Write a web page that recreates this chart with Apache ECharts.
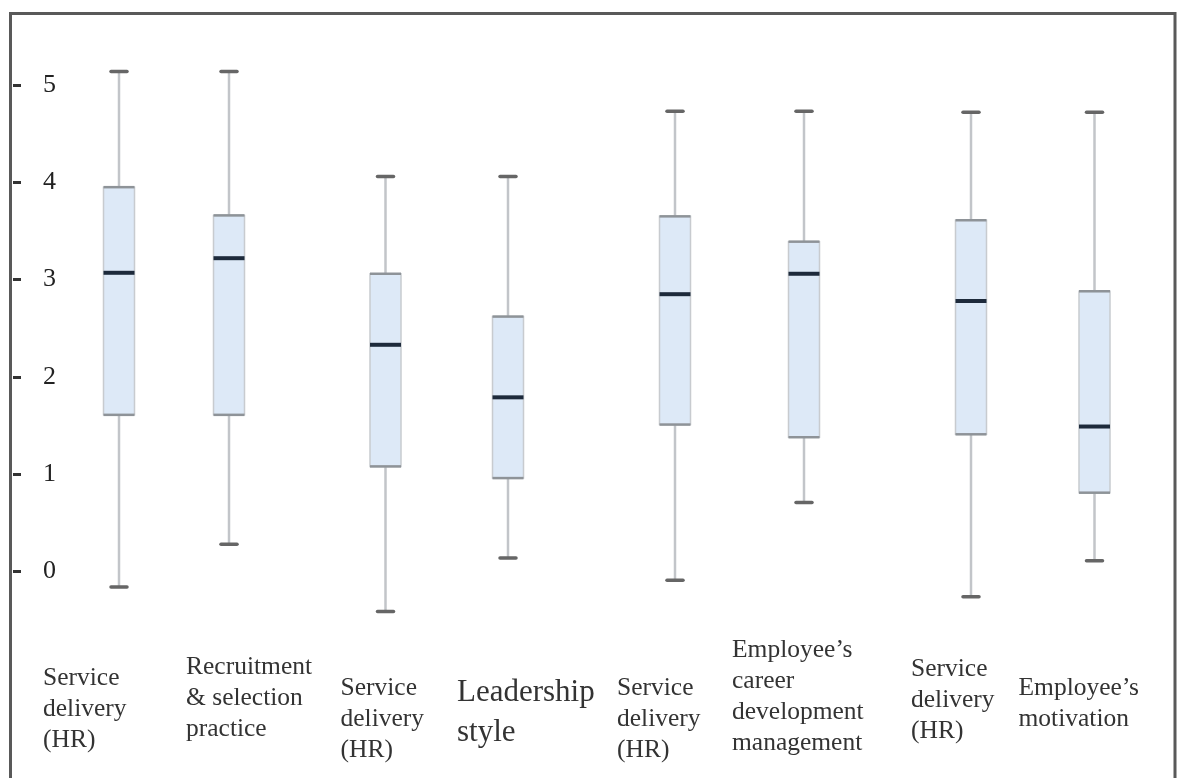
<!DOCTYPE html>
<html>
<head>
<meta charset="utf-8">
<script src="https://cdn.jsdelivr.net/npm/echarts@6/dist/echarts.min.js"></script>
<style>
  html, body { margin: 0; padding: 0; background: #ffffff; }
  #chart { width: 1177px; height: 778px; }
</style>
</head>
<body>
<div id="chart"></div>
<script>
// Category names, one per box
const categories = [
  'Service\ndelivery\n(HR)',
  'Recruitment\n& selection\npractice',
  'Service\ndelivery\n(HR)',
  'Leadership\nstyle',
  'Service\ndelivery\n(HR)',
  'Employee\u2019s\ncareer\ndevelopment\nmanagement',
  'Service\ndelivery\n(HR)',
  'Employee\u2019s\nmotivation'
];

// Five-number summaries
const whiskerLow  = [-0.16, 0.28, -0.41, 0.14, -0.09, 0.71, -0.26, 0.11];
const quartile1   = [1.61, 1.61, 1.08, 0.96, 1.51, 1.38, 1.41, 0.81];
const medians     = [3.07, 3.22, 2.33, 1.79, 2.85, 3.06, 2.78, 1.49];
const quartile3   = [3.95, 3.66, 3.06, 2.62, 3.65, 3.39, 3.61, 2.88];
const whiskerHigh = [5.14, 5.14, 4.06, 4.06, 4.73, 4.73, 4.72, 4.72];

// Value-axis tick labels
const yTicks = [0, 1, 2, 3, 4, 5];

// ---- layout (boxes are drawn in pairs, one grid per pair) ----
const pairGrids = [
  { left: 64,     width: 220 },
  { left: 324.25, width: 245 },
  { left: 610.5,  width: 258 },
  { left: 909.25, width: 247 }
];
const GRID_TOP = 36.35;
const GRID_HEIGHT = 583.8;
const Y_MIN = -0.5, Y_MAX = 5.5;

// label placement relative to each category tick
const labelShiftX = [-76, -43, -45, -51, -58, -72, -60, -76];
const labelShiftY = [28, 17, 38, 38, 38, 0, 19, 38];
const labelKind   = ['n', 'n', 'n', 'big', 'n', 'n', 'n', 'n'];

const SERIF = '"Liberation Serif", "Times New Roman", serif';
const BOX_W = 31;
const CAP_W = 16;

function drawBox(params, api) {
  const i = api.value(0);
  const lo = api.coord([i, api.value(1)]);
  const q1 = api.coord([i, api.value(2)]);
  const md = api.coord([i, api.value(3)]);
  const q3 = api.coord([i, api.value(4)]);
  const hi = api.coord([i, api.value(5)]);
  const cx = md[0];
  const h = BOX_W / 2;
  const c = CAP_W / 2;
  const whisker = { stroke: '#c2c5c9', lineWidth: 2.5 };
  const edge = { stroke: '#8e9398', lineWidth: 2.5 };
  const cap = { stroke: '#666666', lineWidth: 3.5, lineCap: 'round' };
  return {
    type: 'group',
    children: [
      { type: 'line', shape: { x1: cx, y1: hi[1], x2: cx, y2: q3[1] }, style: whisker },
      { type: 'line', shape: { x1: cx, y1: q1[1], x2: cx, y2: lo[1] }, style: whisker },
      { type: 'rect', shape: { x: cx - h, y: q3[1], width: BOX_W, height: q1[1] - q3[1] },
        style: { fill: '#dde9f7', stroke: '#c8cbcf', lineWidth: 1.5 } },
      { type: 'line', shape: { x1: cx - h, y1: q3[1], x2: cx + h, y2: q3[1] }, style: edge },
      { type: 'line', shape: { x1: cx - h, y1: q1[1], x2: cx + h, y2: q1[1] }, style: edge },
      { type: 'line', shape: { x1: cx - h, y1: md[1], x2: cx + h, y2: md[1] },
        style: { stroke: '#1d2a3b', lineWidth: 4 } },
      { type: 'line', shape: { x1: cx - c, y1: hi[1], x2: cx + c, y2: hi[1] }, style: cap },
      { type: 'line', shape: { x1: cx - c, y1: lo[1], x2: cx + c, y2: lo[1] }, style: cap }
    ]
  };
}

const grid = [], xAxis = [], yAxis = [], series = [];

pairGrids.forEach(function (g, gi) {
  const idx = [gi * 2, gi * 2 + 1];
  grid.push({
    left: g.left, width: g.width, top: GRID_TOP, height: GRID_HEIGHT,
    outerBoundsMode: 'none', containLabel: false
  });

  xAxis.push({
    type: 'category',
    gridIndex: gi,
    boundaryGap: true,
    data: idx.map(function (k) {
      return {
        value: categories[k],
        textStyle: {
          align: 'left',
          verticalAlign: 'top',
          padding: [labelShiftY[k], 0, 0, labelShiftX[k]]
        }
      };
    }),
    axisLine: { show: false },
    axisTick: { show: false },
    splitLine: { show: false },
    axisLabel: {
      interval: 0,
      margin: 15,
      align: 'left',
      verticalAlign: 'top',
      color: '#333333',
      fontFamily: SERIF,
      formatter: function (value, index) {
        return '{' + labelKind[idx[index]] + '|' + value + '}';
      },
      rich: {
        n:   { fontFamily: SERIF, fontSize: 25.5, lineHeight: 31, color: '#333333', align: 'left' },
        big: { fontFamily: SERIF, fontSize: 31, lineHeight: 40, color: '#333333', align: 'left' }
      }
    }
  });

  if (gi === 0) {
    yAxis.push({
      type: 'value',
      gridIndex: gi,
      min: Y_MIN, max: Y_MAX,
      position: 'left',
      offset: g.left - 13,
      axisLine: { show: false },
      splitLine: { show: false },
      axisTick: {
        show: true, inside: true, length: 8,
        customValues: yTicks,
        lineStyle: { color: '#333333', width: 3 }
      },
      axisLabel: {
        inside: true, margin: 30,
        customValues: yTicks,
        color: '#222222', fontFamily: SERIF, fontSize: 26
      }
    });
  } else {
    yAxis.push({ type: 'value', gridIndex: gi, min: Y_MIN, max: Y_MAX, show: false });
  }

  series.push({
    type: 'custom',
    coordinateSystem: 'cartesian2d',
    xAxisIndex: gi,
    yAxisIndex: gi,
    silent: true,
    encode: { x: 0, y: [1, 2, 3, 4, 5] },
    renderItem: drawBox,
    data: idx.map(function (k, j) {
      return [j, whiskerLow[k], quartile1[k], medians[k], quartile3[k], whiskerHigh[k]];
    })
  });
});

const chart = echarts.init(document.getElementById('chart'), null, { renderer: 'canvas' });
chart.setOption({
  backgroundColor: '#ffffff',
  animation: false,
  grid: grid,
  xAxis: xAxis,
  yAxis: yAxis,
  series: series,
  graphic: [{
    type: 'rect',
    silent: true,
    z: 100,
    shape: { x: 10.5, y: 13.5, width: 1164.5, height: 800 },
    style: { fill: 'none', stroke: '#595959', lineWidth: 3 }
  }]
});
</script>
</body>
</html>
